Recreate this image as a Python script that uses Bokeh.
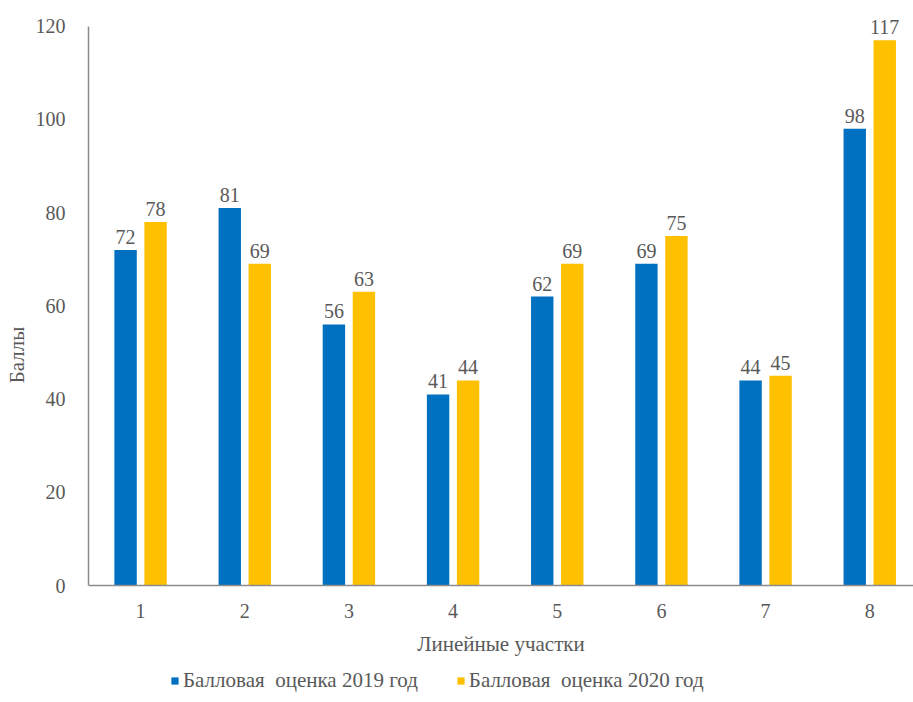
from bokeh.plotting import figure
from bokeh.models import ColumnDataSource, Range1d, LabelSet, Legend, LegendItem, FixedTicker
from bokeh.transform import dodge
from bokeh.embed import file_html
from bokeh.resources import INLINE

categories = [1, 2, 3, 4, 5, 6, 7, 8]
tick_labels = ["1", "2", "3", "4", "5", "6", "7", "8"]
scores_2019 = [72, 81, 56, 41, 62, 69, 44, 98]
scores_2020 = [78, 69, 63, 44, 69, 75, 45, 117]
series_names = ["Балловая  оценка 2019 год", "Балловая  оценка 2020 год"]
y_label = "Баллы"
x_label = "Линейные участки"
y_ticks = [0, 20, 40, 60, 80, 100, 120]

BLUE = "#0070C0"
GOLD = "#FFC000"
GRAY = "#595959"
FONT = "Liberation Serif"

src = ColumnDataSource(dict(
    x=categories,
    y19=scores_2019,
    y20=scores_2020,
    t19=[str(v) for v in scores_2019],
    t20=[str(v) for v in scores_2020],
))

# frame spans from top margin down to the bottom of the window; value 0 sits at y=585 px
p = figure(frame_width=825, frame_height=695, output_backend="svg", toolbar_location=None,
           x_range=Range1d(0.5, 8.42), y_range=Range1d(-25.1, 124),
           min_border_left=88, min_border_right=0, min_border_top=7,
           min_border_bottom=0)
p.outline_line_color = None
p.xgrid.visible = False
p.ygrid.visible = False

r19 = p.vbar(x=dodge("x", -0.144, range=p.x_range), top="y19", bottom=0, width=0.215,
             source=src, fill_color=BLUE, line_color=None)
r20 = p.vbar(x=dodge("x", 0.144, range=p.x_range), top="y20", bottom=0, width=0.215,
             source=src, fill_color=GOLD, line_color=None)

for col, txt, off in (("y19", "t19", -0.144), ("y20", "t20", 0.144)):
    p.add_layout(LabelSet(x=dodge("x", off, range=p.x_range), y=col, text=txt,
                          source=src, y_offset=6, text_align="center",
                          text_baseline="bottom", text_font=FONT,
                          text_font_size="20px", text_color=GRAY))

p.xaxis.ticker = FixedTicker(ticks=categories)
p.xaxis.major_label_overrides = {c: t for c, t in zip(categories, tick_labels)}
p.xaxis.fixed_location = 0
p.yaxis.ticker = FixedTicker(ticks=y_ticks)
p.yaxis.bounds = (0, 120)

for ax in (p.xaxis[0], p.yaxis[0]):
    ax.axis_line_color = "#8c8c8c"
    ax.axis_line_width = 1.5
    ax.major_tick_line_color = None
    ax.minor_tick_line_color = None
    ax.major_label_text_font = FONT
    ax.major_label_text_font_size = "20px"
    ax.major_label_text_color = GRAY
    ax.axis_label_text_font = FONT
    ax.axis_label_text_font_size = "21px"
    ax.axis_label_text_color = GRAY
    ax.axis_label_text_font_style = "normal"

p.xaxis.major_label_standoff = 12
p.yaxis.major_label_standoff = 17
p.xaxis.axis_label = x_label
p.yaxis.axis_label = y_label
p.xaxis.axis_label_standoff = 11
p.yaxis.axis_label_standoff = 4

legend = Legend(items=[LegendItem(label=series_names[0], renderers=[r19]),
                       LegendItem(label=series_names[1], renderers=[r20])],
                orientation="horizontal", location=(82, 9),
                label_text_font=FONT, label_text_font_size="21px",
                label_text_color=GRAY, glyph_width=9, glyph_height=9,
                label_standoff=4, spacing=38, border_line_color=None,
                background_fill_alpha=0, margin=0, padding=0)
p.add_layout(legend, "center")

open("out.html", "w").write(file_html(p, INLINE))
